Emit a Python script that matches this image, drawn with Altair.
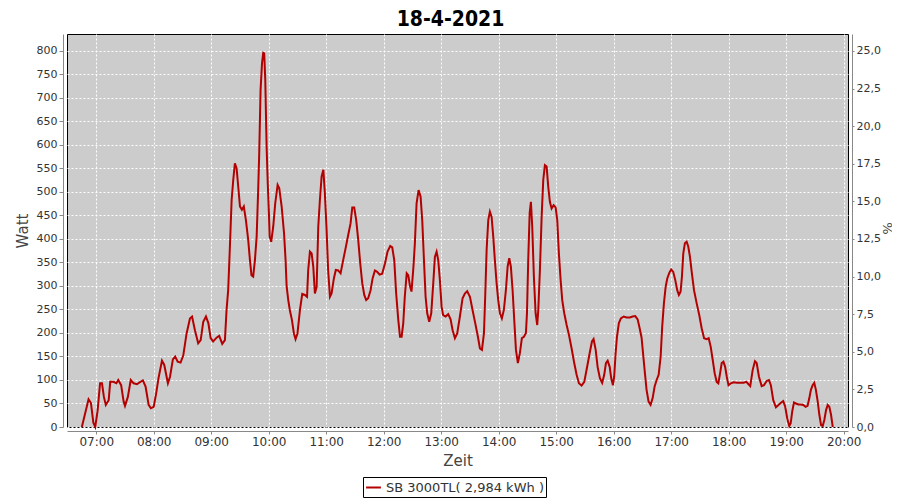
import altair as alt
import pandas as pd

title_text = "18-4-2021"
series_name = "SB 3000TL( 2,984 kWh )"

# time of day in minutes since midnight
minutes = [
    405, 412, 414.5, 417, 419, 421.5, 424, 426, 428, 430, 433, 434.6, 438, 441, 443, 446,
    448.6, 450, 453, 456, 459, 462.5, 466, 468.7, 471.5, 474.7, 477, 480, 482.6, 485, 488.6,
    491, 494.8, 497, 500, 502.4, 505, 508, 510.8, 514.3, 517.8, 520, 523, 526.4, 529, 531.7,
    534.5, 537, 539.4, 542, 545.6, 548.3, 551.5, 554.3, 556, 557.7, 559.5, 561.3, 563, 564.7,
    566.5, 568.2, 570, 572, 574, 576.2, 578.6, 580.4, 582, 583.8, 585.6, 587.4, 589, 590,
    591.5, 593, 594.3, 595.3, 596.4, 597.8, 599, 600.2, 601, 602.6, 604.7, 606.8, 609.3, 611,
    613.5, 616, 617.6, 618.7, 620.4, 622, 624.2, 626.3, 628, 630, 632.6, 635, 637.8, 640,
    641.2, 643, 644.8, 646.5, 648.2, 650, 651.7, 653.4, 655.2, 657, 658.6, 660.4, 662, 663.9,
    665.6, 668, 670, 672.5, 675, 677.7, 680.2, 683, 685.4, 687.2, 689.2, 691.3, 693.4, 695.5,
    697.6, 699.7, 701.7, 703.8, 706.3, 708.4, 710.8, 713.2, 715.7, 718.4, 721.3, 724, 726.8,
    728.9, 731, 733, 735.2, 737, 738.7, 740.4, 742, 744, 745.6, 747.4, 749, 751, 752.5, 754.3,
    756.4, 758.5, 760.2, 762, 763.7, 765.4, 767.5, 769.6, 771.7, 773.4, 775.2, 776.9, 778.6,
    780.4, 782, 784.6, 787.3, 789.8, 791.9, 794.3, 796.7, 799.5, 802.3, 804.7, 807.1, 810,
    812.7, 815.5, 818.3, 820.4, 822.5, 824.6, 826, 827.4, 829.1, 830.8, 832.6, 834.3, 836,
    837.8, 839.5, 841.3, 843.3, 845.4, 847.5, 849.3, 851, 852.7, 854.5, 856.2, 858, 860,
    862.1, 864.2, 866.3, 868.4, 869.5, 870.8, 872.3, 873.6, 875, 876.7, 878.5, 880.2, 881.3,
    883, 884.8, 886.5, 888.2, 890, 891.7, 893.4, 895.2, 897.3, 899.4, 901.1, 902.8, 904.6,
    906.3, 908.4, 910.9, 913.3, 916.1, 918.8, 921.3, 923.7, 926.5, 929.3, 932, 934.9, 937.3,
    939, 941.2, 943.2, 945.6, 948, 950.1, 951.9, 953.7, 955.8, 957.4, 959.2, 960.5, 962,
    963.4, 965.4, 967.5, 970.4, 973.5, 976.9, 979.7, 982.5, 985, 987.3, 989.1, 990.8, 992.6,
    994.3, 996.4, 998.5, 1000.6, 1002.7, 1004.8, 1006.9, 1009, 1010.6, 1012.4, 1014.2, 1015.9,
    1018, 1020, 1022.1, 1024.2, 1026.3, 1028, 1029.8, 1031.2, 1032.6, 1034.3, 1036.1, 1037.8,
    1039.6, 1041.4, 1043.8, 1046.6, 1049.3, 1051.8, 1054.3, 1057, 1059.1, 1061.2, 1063.3,
    1065.4, 1067.5, 1069.2, 1071, 1072.7, 1074.5, 1076.3, 1078, 1079.8, 1082.3, 1085, 1088.6,
    1092, 1095.5, 1098.4, 1100.7, 1102.5, 1105, 1107.4, 1109.2, 1111.6, 1114.4, 1116.8,
    1119.6, 1122, 1124, 1126.5, 1129.3, 1132, 1134.8, 1136.9, 1139, 1141.1, 1143.2, 1144.7,
    1146.3, 1148.1, 1150.2, 1152.6, 1155, 1157.8, 1160.3, 1162.3, 1164.1, 1165.8, 1167.6,
    1169.3, 1171, 1172.9, 1174.6, 1176.4, 1178.1, 1179.8, 1181.6, 1183.3, 1185, 1186.8, 1188.6,
]

watt = [
    0, 59, 51, 9, 0, 36, 93, 93, 64, 47, 57, 96, 96, 93, 100, 89,
    54, 45, 64, 100, 93, 91, 96, 99, 86, 47, 40, 43, 72, 104, 141,
    132, 93, 107, 144, 150, 139, 137, 152, 199, 231, 235, 206, 178, 185, 224,
    235, 221, 189, 182, 190, 194, 177, 185, 249, 291, 384, 483, 526, 561,
    550, 511, 469, 462, 469, 440, 398, 355, 323, 320, 355, 405, 504, 575,
    717, 774, 796, 795, 738, 596, 518, 455, 405, 394, 426, 476, 515, 508,
    469, 412, 355, 299, 270, 249, 228, 199, 187, 199, 249, 283, 281, 277,
    334, 373, 369, 341, 284, 298, 426, 483, 533, 547, 497, 419, 334, 277,
    284, 316, 334, 333, 327, 355, 380, 409, 433, 467, 467, 440, 398, 348,
    306, 281, 270, 274, 291, 316, 333, 330, 324, 326, 348, 373, 385,
    382, 355, 284, 228, 192, 192, 221, 277, 327, 323, 300, 288, 340, 390, 476,
    504, 490, 440, 355, 277, 242, 224, 242, 306, 362, 373, 355, 313,
    256, 238, 235, 240, 229, 206, 189, 199, 235, 274, 284, 289, 277,
    249, 221, 192, 167, 164, 199, 284, 377, 440, 458, 447, 405, 355,
    306, 270, 242, 231, 249, 291, 341, 359, 341, 291, 228, 164, 136,
    157, 189, 192, 200, 242, 355, 455, 479, 426, 320, 242, 217, 249,
    334, 447, 526, 557, 554, 511, 479, 465, 472, 467, 440, 369, 313,
    270, 242, 217, 196, 167, 136, 111, 93, 88, 96, 125, 157, 182,
    187, 164, 128, 104, 94, 111, 136, 141, 128, 104, 89, 107, 157,
    192, 221, 231, 235, 233, 233, 235, 236, 229, 208, 190, 153, 114,
    79, 54, 47, 61, 86, 100, 111, 150, 213, 263, 298, 316,
    328, 335, 330, 313, 291, 281, 288, 320, 369, 391, 394, 384,
    362, 330, 291, 263, 238, 210, 189, 187, 189, 171, 143,
    114, 96, 93, 114, 136, 139, 128, 107, 89, 93, 95, 94,
    94, 94, 96, 91, 87, 121, 140, 136, 107, 87, 89,
    98, 100, 89, 57, 42, 47, 52, 55, 43, 18, 2, 8,
    33, 52, 50, 48, 48, 47, 43, 45, 61, 79, 89,
    94, 79, 54, 26, 4, 2, 15, 36, 47, 43, 26, 0,
]

hour_ticks = list(range(420, 1201, 60))          # 07:00 .. 20:00
watt_ticks = list(range(0, 801, 50))
pct_ticks = [i * 2.5 for i in range(11)]
watt_per_pct = 32.0
x_domain = [389.5, 1204.5]
watt_domain = [0, 836]

df = pd.DataFrame({"t": minutes, "w": watt})
df["pct"] = df["w"] / watt_per_pct
df["series"] = series_name

RED = "#B40000"
FONT = "DejaVu Sans"
grid_kw = dict(grid=True, gridColor="white", gridDash=[2, 2], gridWidth=1, gridOpacity=1)

line = alt.Chart(df).mark_line(strokeWidth=2).encode(
    x=alt.X(
        "t:Q",
        scale=alt.Scale(domain=x_domain, nice=False, zero=False),
        axis=alt.Axis(
            values=hour_ticks,
            labelExpr="(datum.value < 600 ? '0' : '') + floor(datum.value / 60) + ':00'",
            title="Zeit",
            offset=4,
            tickSize=3,
            titlePadding=6,
            **grid_kw,
        ),
    ),
    y=alt.Y(
        "w:Q",
        scale=alt.Scale(domain=watt_domain, nice=False),
        axis=alt.Axis(values=watt_ticks, title="Watt", orient="left", offset=4,
                      tickSize=4, titlePadding=6, **grid_kw),
    ),
    color=alt.Color(
        "series:N",
        scale=alt.Scale(range=[RED]),
        legend=alt.Legend(
            title=None,
            orient="none",
            legendX=296,
            legendY=443,
            strokeColor="black",
            fillColor="white",
            padding=2,
            symbolType="stroke",
            symbolStrokeWidth=2,
            symbolSize=220,
            labelFontSize=13,
            labelFont=FONT,
            labelColor="#333333",
            labelOffset=4,
        ),
    ),
)

right = alt.Chart(df).mark_line(opacity=0).encode(
    x=alt.X("t:Q", scale=alt.Scale(domain=x_domain, nice=False, zero=False)),
    y=alt.Y(
        "pct:Q",
        scale=alt.Scale(domain=[0, watt_domain[1] / watt_per_pct], nice=False),
        axis=alt.Axis(
            orient="right",
            values=pct_ticks,
            labelExpr="replace(format(datum.value, '.1f'), '.', ',')",
            title="%",
            grid=False,
            offset=4,
            tickSize=2,
            labelPadding=2,
            titleX=34,
            titleY=194,
            titleAngle=90,
            titleAlign="center",
            titleBaseline="middle",
            titleFontSize=13,
        ),
    ),
)

chart = (
    alt.layer(line, right)
    .resolve_scale(y="independent")
    .properties(
        width=781,
        height=393,
        autosize=alt.AutoSizeParams(type="none"),
        padding={"left": 59, "top": 26, "right": 44, "bottom": 72},
        title=alt.TitleParams(
            text=title_text,
            font="Liberation Sans Narrow, DejaVu Sans Condensed, Liberation Sans",
            fontSize=21,
            fontWeight="bold",
            color="black",
            anchor="middle",
            offset=4,
            dx=-7,
        ),
    )
    .configure_view(fill="#CCCCCC", stroke="black", strokeWidth=1)
    .configure_axis(
        labelFont=FONT,
        labelFontSize=11,
        labelColor="#333333",
        titleFont=FONT,
        titleFontSize=15,
        titleFontWeight="normal",
        titleColor="#444444",
        domainColor="#888888",
        tickColor="#888888",
    )
    .configure_axisX(labelFontSize=12)
)

chart.save("out.html", embed_options={"renderer": "svg", "actions": False})
